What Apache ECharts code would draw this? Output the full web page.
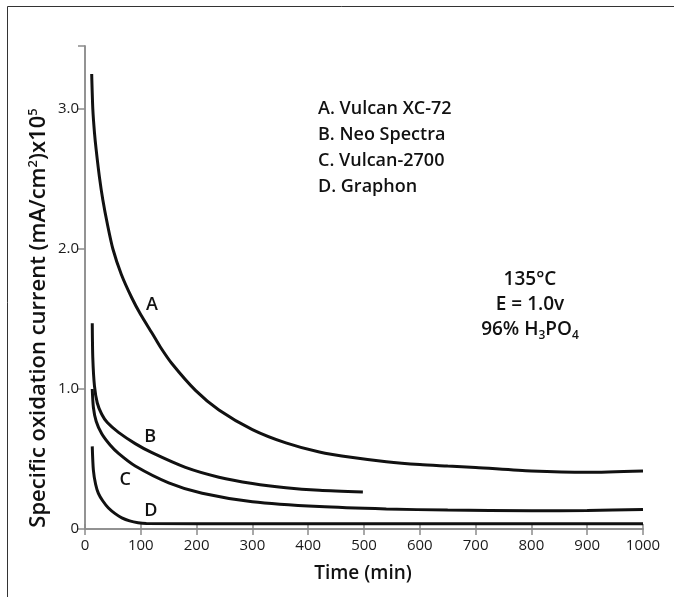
<!DOCTYPE html>
<html><head><meta charset="utf-8">
<script src="https://cdn.jsdelivr.net/npm/echarts@6/dist/echarts.min.js"></script>
<style>html,body{margin:0;padding:0;background:#fff}#c{width:674px;height:597px}</style>
</head><body><div id="c"></div>
<script>
const xTicks = [0,100,200,300,400,500,600,700,800,900,1000];
const yTicks = [0,1.0,2.0,3.0];
const seriesA = [[12,3.25],[14,3.0],[17,2.83],[20,2.71],[26,2.51],[32,2.35],[40,2.18],[50,2.0],[65,1.82],[84,1.65],[100,1.53],[120,1.40],[135,1.30],[156,1.18],[198,0.99],[240,0.85],[300,0.71],[360,0.615],[420,0.55],[480,0.51],[540,0.48],[600,0.46],[650,0.45],[700,0.44],[800,0.415],[900,0.405],[1000,0.415]];
const seriesB = [[13,1.47],[14,1.22],[17,1.02],[22,0.9],[30,0.82],[40,0.76],[60,0.69],[90,0.61],[120,0.545],[180,0.44],[240,0.37],[300,0.325],[360,0.295],[420,0.277],[498,0.265]];
const seriesC = [[13,1.0],[15,0.87],[20,0.77],[30,0.68],[45,0.6],[60,0.54],[90,0.45],[150,0.33],[210,0.255],[300,0.195],[420,0.16],[540,0.143],[650,0.135],[800,0.13],[900,0.132],[1000,0.14]];
const seriesD = [[13,0.59],[15,0.42],[19,0.32],[24,0.255],[32,0.2],[42,0.15],[54,0.11],[66,0.08],[80,0.058],[95,0.045],[110,0.04],[300,0.038],[600,0.038],[1000,0.038]];
const curveLabels = [['A',120,1.6],['B',117,0.66],['C',72,0.35],['D',118,0.13]];
const legendLines = ['A. Vulcan XC-72','B. Neo Spectra','C. Vulcan-2700','D. Graphon'];

const chart = echarts.init(document.getElementById('c'));
const FONT = 'Open Sans';
const axisLine = {show:true, lineStyle:{color:'#8c8c8c', width:1.5}};
function mkLine(data){
  return {type:'line', data:data, smooth:0.25, symbol:'none', lineStyle:{color:'#111', width:3}, silent:true, z:3};
}
chart.setOption({
  animation:false,
  grid:{left:85, right:31, top:46, bottom:68},
  xAxis:[
    {type:'value', min:0, max:1000, interval:100, position:'bottom',
     axisLine:axisLine, axisTick:{show:true, inside:true, length:5, lineStyle:{color:'#8c8c8c', width:1.5}},
     splitLine:{show:false},
     axisLabel:{fontFamily:FONT, fontSize:15, color:'#1a1a1a', margin:9, showMinLabel:true, showMaxLabel:true, formatter:v=>String(v)}},
    {type:'value', min:0, max:1000, interval:100, position:'top',
     axisLine:axisLine, axisTick:{show:true, inside:true, length:6, lineStyle:{color:'#8c8c8c', width:1.5}},
     splitLine:{show:false}, axisLabel:{show:false}}
  ],
  yAxis:[
    {type:'value', min:0, max:3.45, interval:1, position:'left',
     axisLine:axisLine, axisTick:{show:true, inside:false, length:6, lineStyle:{color:'#8c8c8c', width:1.5}},
     splitLine:{show:false},
     axisLabel:{fontFamily:FONT, fontSize:15, color:'#1a1a1a', margin:6, showMaxLabel:false,
       formatter:v=> yTicks.indexOf(v)<0 ? '' : (v===0?'0':v.toFixed(1))}},
    {type:'value', min:0, max:3.45, interval:1, position:'right',
     axisLine:axisLine, axisTick:{show:true, inside:true, length:7, lineStyle:{color:'#8c8c8c', width:1.5}},
     splitLine:{show:false}, axisLabel:{show:false}}
  ],
  series:[
    mkLine(seriesA), mkLine(seriesB), mkLine(seriesC), mkLine(seriesD),
    {type:'scatter', data:curveLabels.map(d=>({value:[d[1],d[2]], name:d[0]})), symbolSize:1, silent:true,
     itemStyle:{opacity:0},
     label:{show:true, opacity:1, position:'inside', formatter:p=>p.name, fontFamily:FONT, fontWeight:600, fontSize:18, color:'#111'}}
  ],
  graphic:[
    {type:'rect', shape:{x:7.5, y:6.5, width:720, height:720}, style:{fill:'none', stroke:'#333', lineWidth:1}, z:-1},
    {type:'text', left:318, top:96, style:{text:legendLines.join('\n'), fontFamily:FONT, fontWeight:600, fontSize:18, lineHeight:26, fill:'#111'}},
    {type:'text', x:530, y:267, style:{
      text:'{a|135°C}\n{a|E = 1.0v}\n{a|96% H}{s|3}{a|PO}{s|4}',
      align:'center', verticalAlign:'top', fontFamily:FONT, fontWeight:600,
      rich:{a:{fontSize:19, fontWeight:600, fontFamily:FONT, fill:'#111', lineHeight:25},
            s:{fontSize:12, fontWeight:600, fontFamily:FONT, fill:'#111', lineHeight:25, verticalAlign:'bottom', padding:[8,0,0,0]}}}},
    {type:'text', x:363, y:574, style:{text:'Time (min)', align:'center', verticalAlign:'middle', fontFamily:FONT, fontWeight:600, fontSize:19, fill:'#111'}},
    {type:'text', x:39, y:318, rotation:Math.PI/2, style:{
      text:'{a|Specific oxidation current (mA/cm}{s|2}{a|)x10}{s|5}',
      align:'center', verticalAlign:'middle',
      rich:{a:{fontSize:22, fontWeight:600, fontFamily:FONT, fill:'#111'},
            s:{fontSize:13, fontWeight:600, fontFamily:FONT, fill:'#111', padding:[0,0,11,0]}}}}
  ]
});
</script></body></html>
